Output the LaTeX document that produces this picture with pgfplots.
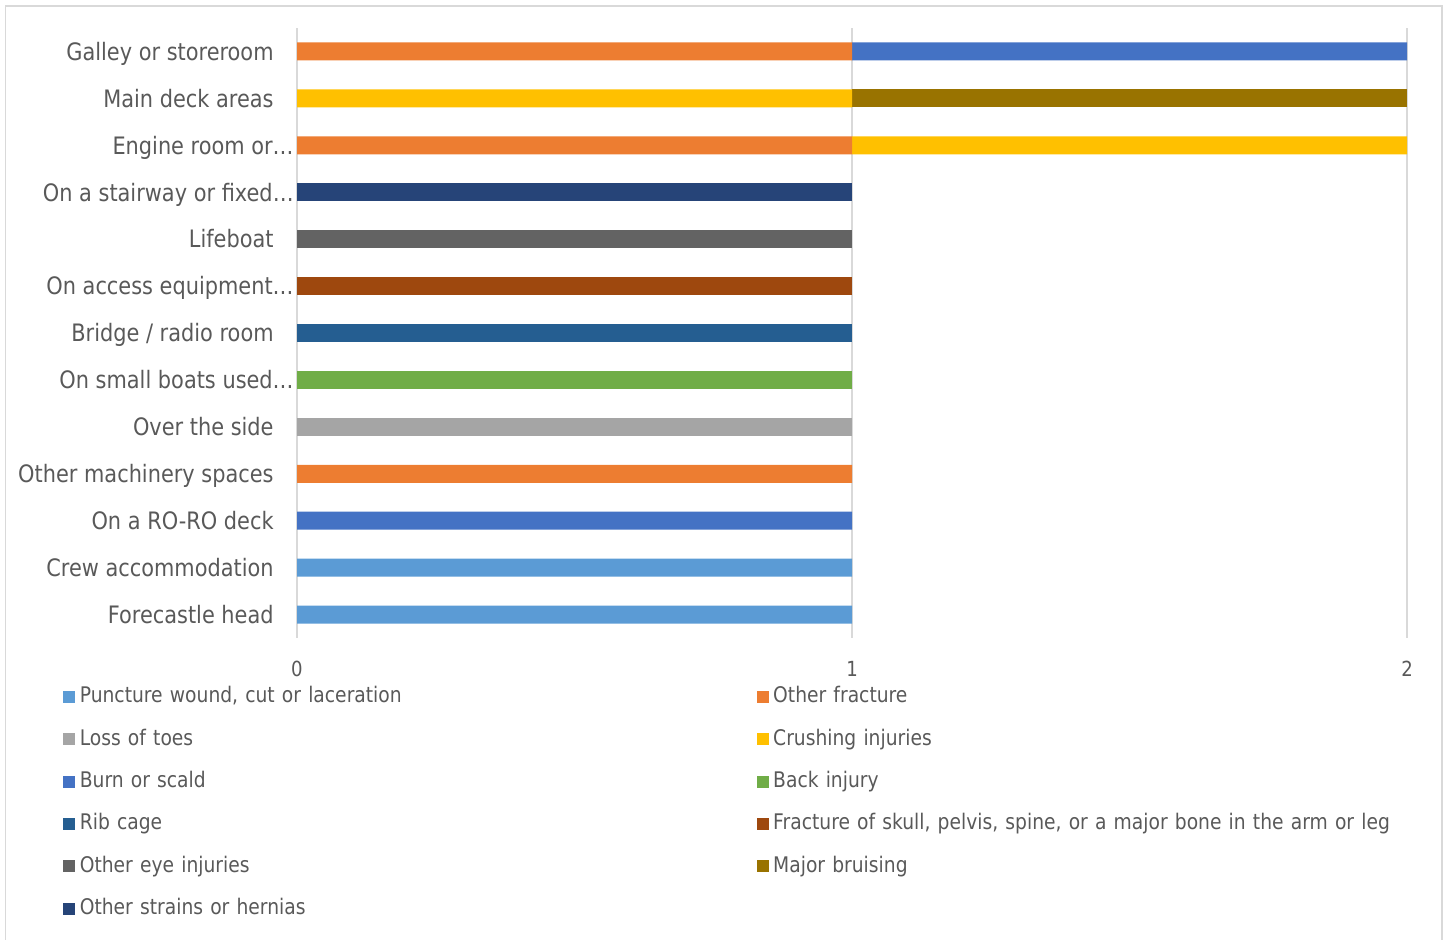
\documentclass[border=0pt]{standalone}
\usepackage{fontspec}
\setmainfont{DejaVu Sans}[FakeStretch=0.87]
\usepackage{pgfplots}
\pgfplotsset{compat=1.18}
\definecolor{c1}{HTML}{5B9BD5}
\definecolor{c2}{HTML}{ED7D31}
\definecolor{c3}{HTML}{A5A5A5}
\definecolor{c4}{HTML}{FFC000}
\definecolor{c5}{HTML}{4472C4}
\definecolor{c6}{HTML}{70AD47}
\definecolor{c7}{HTML}{255E91}
\definecolor{c8}{HTML}{9E480E}
\definecolor{c9}{HTML}{636363}
\definecolor{c10}{HTML}{997300}
\definecolor{c11}{HTML}{264478}
\definecolor{txt}{HTML}{595959}
\definecolor{gridc}{HTML}{D9D9D9}
\newcommand{\gap}{\hspace*{10pt}}
\begin{document}
\begin{tikzpicture}
\path[use as bounding box] (0,0) rectangle (725pt,470pt);
\draw[gridc, line width=0.75pt] (2.75pt,-5pt) rectangle (721pt,467pt);
\begin{axis}[
  at={(148.5pt,151pt)}, anchor=south west,
  scale only axis, width=555pt, height=305pt,
  xbar stacked, bar width=9pt,
  xmin=0, xmax=2, ymin=-0.5, ymax=12.5,
  xtick={0,1,2}, ytick={0,...,12},
  yticklabels={Forecastle head\gap, Crew accommodation\gap, On a RO-RO deck\gap, Other machinery spaces\gap, Over the side\gap, On small boats used…, Bridge / radio room\gap, On access equipment…, Lifeboat\gap, On a stairway or fixed…, Engine room or…, Main deck areas\gap, Galley or storeroom\gap},
  axis line style={draw=none},
  tick style={draw=none},
  xmajorgrids, major grid style={gridc, line width=0.75pt},
  /pgf/number format/assume math mode=true,
  xticklabel style={anchor=base, inner sep=0pt, yshift=-19.35pt, font=\fontsize{10.4pt}{12pt}\selectfont, text=txt},
  yticklabel style={anchor=base east, inner sep=0pt, xshift=-1.5pt, yshift=-4.4pt, font=\fontsize{12pt}{14pt}\selectfont, text=txt},
  legend columns=2,
  legend cell align=left,
  legend image code/.code={\fill[#1] (0pt,-2.5pt) rectangle (6pt,3.5pt);},
  legend style={draw=none, fill=none, at={(axis description cs:-0.2162,-0.0730)}, anchor=north west,
    font=\fontsize{10.75pt}{13pt}\selectfont, text=txt,
    nodes={inner xsep=0pt, inner ysep=0pt, text width=330pt, text height=8pt, text depth=3.25pt},
    row sep=9.9pt,
    /tikz/every odd column/.append style={column sep=2.2pt},
    /tikz/every even column/.append style={column sep=8.5pt}},
]
\addplot[fill=c1, draw=none] coordinates {(1,0) (1,1) (0,2) (0,3) (0,4) (0,5) (0,6) (0,7) (0,8) (0,9) (0,10) (0,11) (0,12)};
\addplot[fill=c2, draw=none] coordinates {(0,0) (0,1) (0,2) (1,3) (0,4) (0,5) (0,6) (0,7) (0,8) (0,9) (1,10) (0,11) (1,12)};
\addplot[fill=c3, draw=none] coordinates {(0,0) (0,1) (0,2) (0,3) (1,4) (0,5) (0,6) (0,7) (0,8) (0,9) (0,10) (0,11) (0,12)};
\addplot[fill=c4, draw=none] coordinates {(0,0) (0,1) (0,2) (0,3) (0,4) (0,5) (0,6) (0,7) (0,8) (0,9) (1,10) (1,11) (0,12)};
\addplot[fill=c5, draw=none] coordinates {(0,0) (0,1) (1,2) (0,3) (0,4) (0,5) (0,6) (0,7) (0,8) (0,9) (0,10) (0,11) (1,12)};
\addplot[fill=c6, draw=none] coordinates {(0,0) (0,1) (0,2) (0,3) (0,4) (1,5) (0,6) (0,7) (0,8) (0,9) (0,10) (0,11) (0,12)};
\addplot[fill=c7, draw=none] coordinates {(0,0) (0,1) (0,2) (0,3) (0,4) (0,5) (1,6) (0,7) (0,8) (0,9) (0,10) (0,11) (0,12)};
\addplot[fill=c8, draw=none] coordinates {(0,0) (0,1) (0,2) (0,3) (0,4) (0,5) (0,6) (1,7) (0,8) (0,9) (0,10) (0,11) (0,12)};
\addplot[fill=c9, draw=none] coordinates {(0,0) (0,1) (0,2) (0,3) (0,4) (0,5) (0,6) (0,7) (1,8) (0,9) (0,10) (0,11) (0,12)};
\addplot[fill=c10, draw=none] coordinates {(0,0) (0,1) (0,2) (0,3) (0,4) (0,5) (0,6) (0,7) (0,8) (0,9) (0,10) (1,11) (0,12)};
\addplot[fill=c11, draw=none] coordinates {(0,0) (0,1) (0,2) (0,3) (0,4) (0,5) (0,6) (0,7) (0,8) (1,9) (0,10) (0,11) (0,12)};
\legend{{Puncture wound, cut or laceration}, Other fracture, Loss of toes, Crushing injuries, Burn or scald, Back injury, Rib cage, {Fracture of skull, pelvis, spine, or a major bone in the arm or leg}, Other eye injuries, Major bruising, Other strains or hernias}
\end{axis}
\end{tikzpicture}
\end{document}
